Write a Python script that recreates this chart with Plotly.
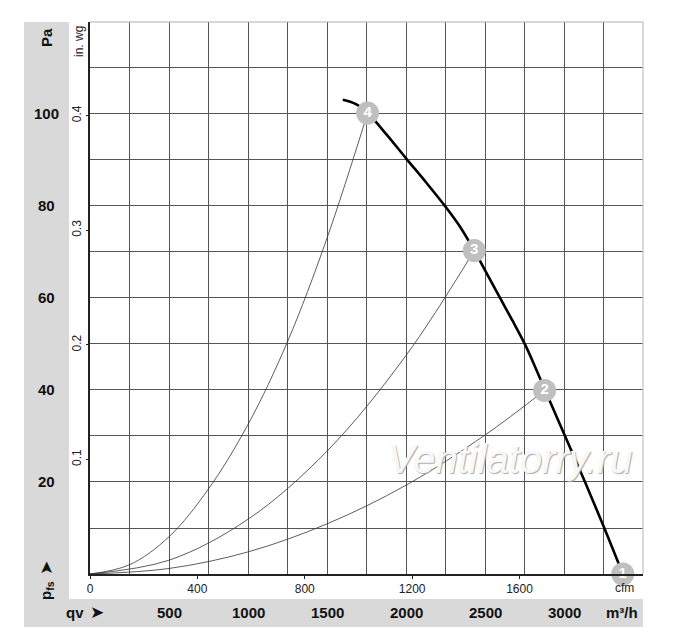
import plotly.graph_objects as go

# --- dane (q w m³/h, p w Pa) ---
fan_q = [1600, 1680, 1757, 1880, 2004, 2130, 2251, 2340, 2432, 2515, 2595, 2675, 2753, 2820, 2880,
         3005, 3133, 3255, 3372]
fan_p = [103.1, 102.2, 100.2, 95.4, 90.2, 85.0, 79.8, 75.6, 70.3, 65.1, 60.0, 55.0, 49.9, 44.8, 40.0,
         30.1, 20.0, 10.0, 0.0]

sys4_q = [0, 250, 500, 750, 1000, 1250, 1500, 1757]
sys4_p = [0, 2.0, 8.1, 18.5, 32.5, 50.5, 73.0, 100.2]
sys3_q = [0, 500, 1000, 1500, 2000, 2432]
sys3_p = [0, 3.0, 11.9, 26.7, 47.5, 70.3]
sys2_q = [0, 500, 1000, 1500, 2000, 2500, 2877]
sys2_p = [0, 1.2, 4.8, 10.9, 19.3, 30.2, 39.9]

point_labels = ["1", "2", "3", "4"]
point_q = [3372, 2877, 2432, 1757]
point_p = [0.0, 39.9, 70.3, 100.2]

pa_ticks = [20, 40, 60, 80, 100]
m3h_ticks = [500, 1000, 1500, 2000, 2500, 3000]
cfm_ticks = [0, 400, 800, 1200, 1600]
inwg_ticks = [0.1, 0.2, 0.3, 0.4]

M3H_PER_CFM = 1.69901
PA_PER_INWG = 249.089
Q_MAX = 3500
P_MAX = 120

W, H = 700, 643
OFF = 8  # margines body strony
L, R, T, B = 82, 65, 14, 77
FONT = "Arial, Liberation Sans, sans-serif"
PANEL = "#d9d9d9"


def xp(px):
    # piksel zrzutu -> współrzędna paper
    return (px - OFF - L) / (W - L - R)


def yp(py):
    return (H - B - (py - OFF)) / (H - T - B)


fig = go.Figure()

for q, p in [(sys4_q, sys4_p), (sys3_q, sys3_p), (sys2_q, sys2_p)]:
    fig.add_trace(go.Scatter(x=q, y=p, mode="lines", line=dict(color="#333", width=0.8, shape="spline"),
                             hoverinfo="skip", showlegend=False))

fig.add_trace(go.Scatter(x=fan_q, y=fan_p, mode="lines",
                         line=dict(color="black", width=2.6, shape="spline", smoothing=1.0),
                         showlegend=False))

fig.add_trace(go.Scatter(
    x=point_q, y=point_p, mode="markers+text", text=[f"<b>{t}</b>" for t in point_labels],
    marker=dict(size=23, color="#bfbfbf", line=dict(width=0)),
    textfont=dict(family=FONT, size=15, color="white"),
    textposition="middle center", cliponaxis=False, showlegend=False,
))

# oś cfm (tylko opisy)
fig.add_trace(go.Scatter(x=[0, Q_MAX / M3H_PER_CFM], y=[0, 0], xaxis="x2", mode="lines",
                         line=dict(width=0), hoverinfo="skip", showlegend=False))
# oś in. wg (tylko opisy)
fig.add_trace(go.Scatter(x=[0, 0], y=[0, P_MAX / PA_PER_INWG], yaxis="y2", mode="lines",
                         line=dict(width=0), hoverinfo="skip", showlegend=False))

grid = dict(showgrid=True, gridcolor="#555", gridwidth=1, zeroline=False,
            showticklabels=False, ticks="", showline=True, linecolor="#222", linewidth=1.5)

fig.update_layout(
    width=W, height=H,
    margin=dict(l=L, r=R, t=T, b=B, pad=0),
    paper_bgcolor="white", plot_bgcolor="white",
    font=dict(family=FONT, color="#111"),
    xaxis=dict(range=[0, Q_MAX - 0.1], tick0=0, dtick=250, **grid),
    yaxis=dict(range=[0, P_MAX - 0.01], tick0=0, dtick=10, **grid),
    xaxis2=dict(overlaying="x", anchor="y", side="bottom", range=[0, Q_MAX / M3H_PER_CFM],
                tickvals=cfm_ticks, ticks="outside", ticklen=4, tickcolor="#222",
                showgrid=False, zeroline=False, showline=False,
                tickfont=dict(size=12, color="#222")),
    yaxis2=dict(overlaying="y", anchor="x", side="left", range=[0, P_MAX / PA_PER_INWG],
                tickvals=inwg_ticks, ticktext=[str(v) for v in inwg_ticks],
                ticks="outside", ticklen=3, tickcolor="#222", tickangle=-90,
                showgrid=False, zeroline=False, showline=False,
                tickfont=dict(size=12, color="#222")),
    showlegend=False,
)

# szare panele i jasna ramka góra/prawo
fig.add_shape(type="rect", xref="paper", yref="paper", x0=xp(24), x1=xp(69), y0=yp(627), y1=yp(22),
              fillcolor=PANEL, line=dict(width=0), layer="below")
fig.add_shape(type="rect", xref="paper", yref="paper", x0=xp(24), x1=xp(643), y0=yp(627), y1=yp(599),
              fillcolor=PANEL, line=dict(width=0), layer="below")
fig.add_shape(type="line", xref="paper", yref="paper", x0=0, x1=1, y0=1, y1=1,
              line=dict(color="#b0b0b0", width=1.2))
fig.add_shape(type="line", xref="paper", yref="paper", x0=1, x1=1, y0=0, y1=1,
              line=dict(color="#c0c0c0", width=1.2))


def label(x, y, text, font, xref="paper", yref="paper", angle=0):
    fig.add_annotation(x=x, y=y, xref=xref, yref=yref, text=text, textangle=angle,
                       showarrow=False, xanchor="center", yanchor="middle", font=font)


bold = dict(family=FONT, size=15, color="#111")
small = dict(family=FONT, size=12, color="#222")
arrow = dict(family="DejaVu Sans", size=17, color="#111")

for v in pa_ticks:
    label(xp(46), v, f"<b>{v}</b>", bold, yref="y")
for v in m3h_ticks:
    label(v, yp(612), f"<b>{v}</b>", bold, xref="x")

label(xp(46), yp(38), "<b>Pa</b>", bold, angle=-90)
label(xp(46), yp(568), "➤", arrow, angle=-90)
label(xp(46), yp(591), "<b>p<sub>fs</sub></b>", bold, angle=-90)
label(xp(75), yp(612), "<b>qv</b>", bold)
label(xp(97), yp(612), "➤", arrow)
label(xp(622), yp(612), "<b>m³/h</b>", bold)
label(xp(79), yp(42), "in. wg", small, angle=-90)
label(xp(624), yp(588), "cfm", small)

# znak wodny (jasny tekst z cieniem)
label(xp(510), yp(459), "<i>Ventilatorry.ru</i>",
      dict(family=FONT, size=40, color="#f8f8f8", shadow="1px 1px 1px #a8a8a8"))

fig.write_html("out.html")
